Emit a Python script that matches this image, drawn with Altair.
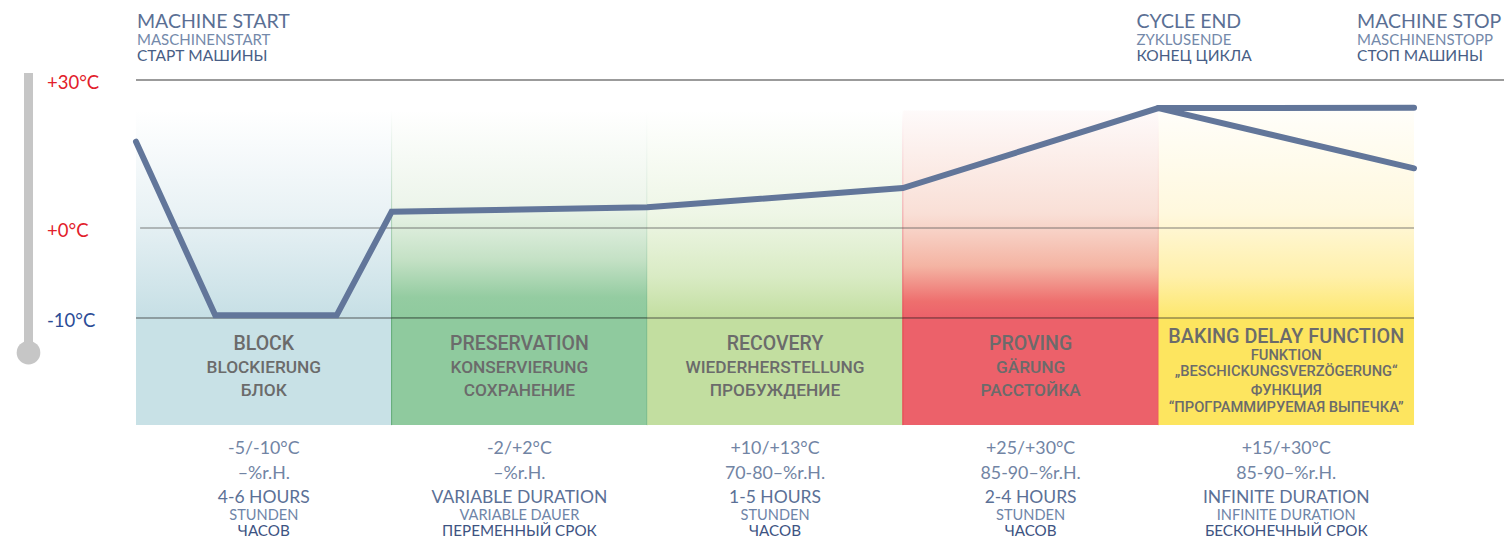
import altair as alt
import pandas as pd

# ---------------- data ----------------
STAGE_START = [0, 1, 2, 3, 4]
STAGE_END = [1, 2, 3, 4, 5]
STAGE_TITLE = ["BLOCK", "PRESERVATION", "RECOVERY", "PROVING", "BAKING DELAY FUNCTION"]
STAGE_SUB = [
    ["BLOCKIERUNG", "БЛОК"],
    ["KONSERVIERUNG", "СОХРАНЕНИЕ"],
    ["WIEDERHERSTELLUNG", "ПРОБУЖДЕНИЕ"],
    ["GÄRUNG", "РАССТОЙКА"],
    ["FUNKTION", "„BESCHICKUNGSVERZÖGERUNG“", "ФУНКЦИЯ", "“ПРОГРАММИРУЕМАЯ ВЫПЕЧКА”"],
]
STAGE_TEMP = ["-5/-10°C", "-2/+2°C", "+10/+13°C", "+25/+30°C", "+15/+30°C"]
STAGE_RH = ["–%r.H.", "–%r.H.", "70-80–%r.H.", "85-90–%r.H.", "85-90–%r.H."]
STAGE_DUR_EN = ["4-6 HOURS", "VARIABLE DURATION", "1-5 HOURS", "2-4 HOURS", "INFINITE DURATION"]
STAGE_DUR_DE = ["STUNDEN", "VARIABLE DAUER", "STUNDEN", "STUNDEN", "INFINITE DURATION"]
STAGE_DUR_RU = ["ЧАСОВ", "ПЕРЕМЕННЫЙ СРОК", "ЧАСОВ", "ЧАСОВ", "БЕСКОНЕЧНЫЙ СРОК"]

# temperature curve (x in stage units, y in °C)
CURVE_MAIN_X = [0, 0.31, 0.785, 1, 2, 3, 4, 5]
CURVE_MAIN_T = [17.5, -9.7, -9.7, 3.3, 4.2, 8.1, 24.3, 24.4]
CURVE_ALT_X = [4, 5]
CURVE_ALT_T = [24.3, 12.1]

TICK_T = [30, 0, -10]
TICK_LABEL = ["+30°C", "+0°C", "-10°C"]

EVENT_X = [0, 4, 5]
EVENT_EN = ["MACHINE START", "CYCLE END", "MACHINE STOP"]
EVENT_DE = ["MASCHINENSTART", "ZYKLUSENDE", "MASCHINENSTOPP"]
EVENT_RU = ["СТАРТ МАШИНЫ", "КОНЕЦ ЦИКЛА", "СТОП МАШИНЫ"]

# ---------------- layout / style ----------------
W, H = 1496, 532
X_END = 5.352
xsc = alt.Scale(domain=[-0.5008, X_END], range=[0, W], nice=False, zero=False)
ysc = alt.Scale(domain=[-10, 0, 30], range=[310, 220, 72], nice=False, zero=False)
T_TOP = 23.9      # top of gradient area
T_FLOOR = -21.9   # bottom of coloured label area
EVENT_DX = [1, -22, -57]

BAND_SOLID = ["#c8e1e6", "#8fca9e", "#c2dea0", "#ec616a", "#fde55f"]
BAND_STOPS = [
    [(0, "#ffffff"), (0.5, "#e9f2f5"), (1, "#c6dfe5")],
    [(0, "#ffffff"), (0.45, "#edf5eb"), (0.72, "#c4e1c5"), (0.9, "#94cca1"), (1, "#8fca9e")],
    [(0, "#ffffff"), (0.5, "#eef6e6"), (0.8, "#d9ebc4"), (1, "#c2dea0")],
    [(0, "#fefafa"), (0.5, "#f9dfd6"), (0.75, "#f4b4a3"), (0.92, "#ee6f6e"), (1, "#ec616a")],
    [(0, "#fffefa"), (0.5, "#fff8dd"), (0.8, "#fff0aa"), (1, "#fde76c")],
]
BAND_EDGE = [None, "#5ea873", None, "#e5404b", None]

LINE_COLOR = "#62769a"
LABEL_GRAY = "#6b6b6b"


def grad(stops):
    return alt.LinearGradient(
        gradient="linear", x1=0, y1=0, x2=0, y2=1,
        stops=[alt.GradientStop(offset=o, color=c) for o, c in stops],
    )


X = lambda f: alt.X(f, type="quantitative", scale=xsc, axis=None)
Y = lambda f: alt.Y(f, type="quantitative", scale=ysc, axis=None)

layers = []

# bands
bands = pd.DataFrame({"x0": STAGE_START, "x1": STAGE_END})
bands["ttop"] = T_TOP
bands["tmid"] = -10
bands["tbot"] = T_FLOOR
for i in range(5):
    d = bands.iloc[[i]]
    kw = {}
    if BAND_EDGE[i]:
        kw = dict(stroke=grad([(0, "#ffffff"), (1, BAND_EDGE[i])]), strokeWidth=1)
    layers.append(alt.Chart(d).mark_rect(fill=grad(BAND_STOPS[i]), **kw).encode(
        x=X("x0"), x2="x1", y=Y("ttop"), y2="tmid"))
    layers.append(alt.Chart(d).mark_rect(fill=BAND_SOLID[i]).encode(
        x=X("x0"), x2="x1", y=Y("tmid"), y2="tbot"))
    if BAND_EDGE[i]:
        e = pd.DataFrame({"x": [STAGE_START[i], STAGE_END[i]], "a": -10, "b": T_FLOOR})
        layers.append(alt.Chart(e).mark_rule(color=BAND_EDGE[i], strokeWidth=1).encode(
            x=X("x"), y=Y("a"), y2="b"))

# grid lines
g30 = pd.DataFrame({"t": [30], "xa": [0], "xb": [X_END]})
g0 = pd.DataFrame({"t": [0], "xa": [0.016], "xb": [5]})
g10 = pd.DataFrame({"t": [-10], "xa": [0], "xb": [5]})
layers.append(alt.Chart(g30).mark_rule(color="#7a7a7a", strokeWidth=1.3).encode(x=X("xa"), x2="xb", y=Y("t")))
layers.append(alt.Chart(g0).mark_rule(color="#555555", strokeWidth=1.4, opacity=0.5).encode(x=X("xa"), x2="xb", y=Y("t")))
layers.append(alt.Chart(g10).mark_rule(color="#2e2e2e", strokeWidth=1.2, opacity=0.75).encode(x=X("xa"), x2="xb", y=Y("t")))

# thermometer
therm = pd.DataFrame({"x": [-0.4206], "a": [31.4], "b": [-13.86]})
layers.append(alt.Chart(therm).mark_rule(color="#c6c6c6", strokeWidth=9).encode(x=X("x"), y=Y("a"), y2="b"))
layers.append(alt.Chart(therm).mark_point(filled=True, shape="circle", size=560, color="#c6c6c6", opacity=1).encode(x=X("x"), y=Y("b")))

# tick labels
ticks = pd.DataFrame({"t": TICK_T, "label": TICK_LABEL, "c": ["#e2202a", "#e2202a", "#2b4c96"]})
layers.append(alt.Chart(ticks).mark_text(align="left", baseline="middle", font="Lato", fontSize=18.5, dy=2.5).encode(
    x=alt.value(39), y=Y("t"), text="label:N", color=alt.Color("c:N", scale=None)))

# temperature curve
curve = pd.concat([
    pd.DataFrame({"x": CURVE_MAIN_X, "t": CURVE_MAIN_T, "s": "main"}),
    pd.DataFrame({"x": CURVE_ALT_X, "t": CURVE_ALT_T, "s": "alt"}),
])
layers.append(alt.Chart(curve).mark_line(color=LINE_COLOR, strokeWidth=6, strokeCap="round").encode(
    x=X("x"), y=Y("t"), detail="s:N"))

# header texts
ev = pd.DataFrame({"x": EVENT_X, "en": EVENT_EN, "de": EVENT_DE, "ru": EVENT_RU})
for i in range(3):
    d = ev.iloc[[i]]
    for col, yy, fs, colr in [("en", 14, 19.5, "#5a6f94"), ("de", 32, 15, "#7489aa"), ("ru", 48, 15.5, "#485e86")]:
        layers.append(alt.Chart(d).mark_text(align="left", baseline="middle", font="Lato", fontSize=fs,
                                             color=colr, dx=EVENT_DX[i]).encode(
            x=X("x"), y=alt.value(yy), text=f"{col}:N"))

# band labels
centers = [(a + b) / 2 for a, b in zip(STAGE_START, STAGE_END)]
for i in range(5):
    if i < 4:
        ys = [336, 360, 383]
        sizes = [19.5, 17.3, 17.3]
    else:
        ys = [329, 348, 364, 383, 400]
        sizes = [19.8, 14.7, 14.7, 14.7, 14.7]
    lines = [STAGE_TITLE[i]] + STAGE_SUB[i]
    for ln, yy, fs in zip(lines, ys, sizes):
        dd = pd.DataFrame({"x": [centers[i]], "t": [ln]})
        layers.append(alt.Chart(dd).mark_text(align="center", baseline="middle", font="Roboto", fontWeight=500,
                                              fontSize=fs, color=LABEL_GRAY).encode(
            x=X("x"), y=alt.value(yy), text="t:N"))

# bottom info rows
info = pd.DataFrame({"x": centers, "r1": STAGE_TEMP, "r2": STAGE_RH, "r3": STAGE_DUR_EN,
                     "r4": STAGE_DUR_DE, "r5": STAGE_DUR_RU})
for col, yy, fs, colr in [("r1", 441, 17.8, "#7184a4"), ("r2", 466, 17.8, "#7184a4"), ("r3", 490, 17.5, "#5b7096"),
                          ("r4", 508, 14.6, "#6f85a8"), ("r5", 523, 15.2, "#3d5382")]:
    layers.append(alt.Chart(info).mark_text(align="center", baseline="middle", font="Lato", fontSize=fs,
                                            color=colr).encode(x=X("x"), y=alt.value(yy), text=f"{col}:N"))

chart = alt.layer(*layers).properties(width=W, height=H, padding=0, autosize="none").configure_view(stroke=None)
chart.save("out.html", embed_options={"renderer": "svg", "actions": False})
